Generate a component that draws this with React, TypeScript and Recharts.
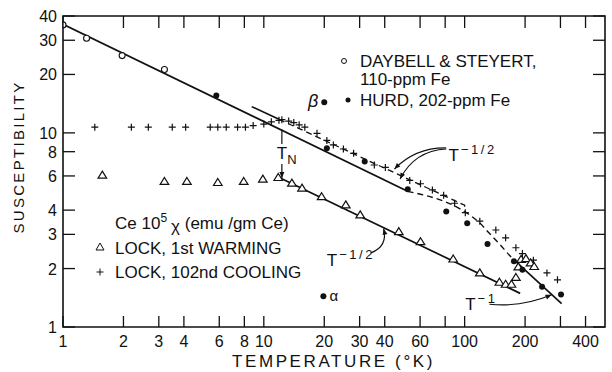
import React from "react";
import { ComposedChart, Line, Scatter, XAxis, YAxis, ReferenceArea, ReferenceLine, ReferenceDot } from "recharts";

// susceptibility of Ce vs temperature, log-log

const daybell = [
	{ T: 1.0, chi: 36.0 }, { T: 1.31, chi: 30.7 }, { T: 1.97, chi: 25.0 }, { T: 3.2, chi: 21.2 },
];
const hurd = [
	{ T: 5.8, chi: 15.6 }, { T: 20.6, chi: 8.33 }, { T: 31.8, chi: 7.13 }, { T: 52.1, chi: 5.13 },
	{ T: 81, chi: 3.93 }, { T: 103, chi: 3.42 }, { T: 130, chi: 2.68 }, { T: 176, chi: 2.18 },
	{ T: 194, chi: 1.97 }, { T: 243, chi: 1.61 }, { T: 302, chi: 1.47 },
];
const phases = [
	{ T: 20, chi: 14.4, name: "β" },
	{ T: 19.8, chi: 1.44, name: "α" },
];
const warming = [
	{ T: 1.57, chi: 6.06 }, { T: 3.2, chi: 5.62 }, { T: 4.14, chi: 5.62 }, { T: 5.9, chi: 5.55 },
	{ T: 7.94, chi: 5.62 }, { T: 9.89, chi: 5.78 }, { T: 11.8, chi: 5.89 }, { T: 13.8, chi: 5.51 },
	{ T: 15.5, chi: 5.19 }, { T: 19.4, chi: 4.69 }, { T: 25.6, chi: 4.26 }, { T: 30.2, chi: 3.78 },
	{ T: 47, chi: 3.1 }, { T: 60.3, chi: 2.75 }, { T: 87.7, chi: 2.24 }, { T: 119, chi: 1.9 },
	{ T: 149, chi: 1.7 }, { T: 160, chi: 1.66 }, { T: 171, chi: 1.66 }, { T: 180, chi: 1.8 },
	{ T: 185, chi: 2.04 }, { T: 191, chi: 2.23 }, { T: 202, chi: 2.25 }, { T: 213, chi: 2.14 },
	{ T: 222, chi: 2.05 },
];
const cooling = [
	{ T: 1.44, chi: 10.7 }, { T: 2.19, chi: 10.7 }, { T: 2.66, chi: 10.7 }, { T: 3.5, chi: 10.7 },
	{ T: 4.08, chi: 10.7 }, { T: 5.41, chi: 10.7 }, { T: 5.9, chi: 10.7 }, { T: 6.5, chi: 10.7 },
	{ T: 7.4, chi: 10.7 }, { T: 8.1, chi: 10.7 }, { T: 8.85, chi: 10.9 }, { T: 10.0, chi: 11.1 },
	{ T: 10.9, chi: 11.4 }, { T: 11.9, chi: 11.6 }, { T: 12.3, chi: 11.7 }, { T: 13.3, chi: 11.5 },
	{ T: 14.1, chi: 11.3 }, { T: 15.0, chi: 11.0 }, { T: 16.0, chi: 10.7 }, { T: 18.4, chi: 9.95 },
	{ T: 20.6, chi: 9.14 }, { T: 22.2, chi: 8.67 }, { T: 24.9, chi: 8.26 }, { T: 28.0, chi: 7.85 },
	{ T: 35.5, chi: 6.83 }, { T: 40.3, chi: 6.64 }, { T: 53.3, chi: 5.69 }, { T: 60.3, chi: 5.47 },
	{ T: 69.1, chi: 5.08 }, { T: 78.6, chi: 4.77 }, { T: 89.1, chi: 4.34 }, { T: 100.8, chi: 3.88 },
	{ T: 119, chi: 3.51 }, { T: 143, chi: 3.16 }, { T: 160, chi: 2.88 }, { T: 180, chi: 2.56 },
	{ T: 194, chi: 2.39 }, { T: 220, chi: 2.21 }, { T: 257, chi: 1.9 }, { T: 290, chi: 1.75 },
];

// drawn fit lines
const hurdFit = [{ T: 1, chi: 36.3 }, { T: 52, chi: 5.0 }];
const hurdFitDashed = [
	{ T: 52, chi: 5.0 }, { T: 118, chi: 3.46 }, { T: 132, chi: 3.06 }, { T: 150, chi: 2.66 },
	{ T: 168, chi: 2.33 }, { T: 178, chi: 2.2 },
];
const hurdInverse = [{ T: 180, chi: 2.17 }, { T: 304, chi: 1.32 }];
const coolFit = [{ T: 8.7, chi: 13.65 }, { T: 11.9, chi: 11.75 }];
const coolFitDashed = [{ T: 11.9, chi: 11.75 }, { T: 100, chi: 4.24 }, { T: 100, chi: 3.98 }];
const warmFit = [{ T: 12, chi: 5.88 }, { T: 189, chi: 1.49 }];

const xTicks = [1, 2, 3, 4, 6, 8, 10, 20, 30, 40, 60, 80, 100, 200, 300, 400];
const xTickLabels = [1, 2, 3, 4, 6, 8, 10, 20, 30, 40, 60, 100, 200, 400];
const yTicks = [1, 2, 3, 4, 6, 8, 10, 20, 30, 40];

const INK = "#111";
const FONT = "'Liberation Sans', Arial, sans-serif";
const PLOT_W = 542;
const PLOT_H = 311;

const XTick = (props: any) => {
	const { x, y, payload } = props;
	const v = payload.value;
	return (
		<g>
			<line x1={x} x2={x} y1={y} y2={y - 11} stroke={INK} strokeWidth={1.3} />
			<line x1={x} x2={x} y1={y - PLOT_H} y2={y - PLOT_H + 12} stroke={INK} strokeWidth={1.3} />
			{xTickLabels.includes(v) && (
				<text x={x} y={y + 20} textAnchor="middle" fontSize={16} fontFamily={FONT} fill={INK}>{v}</text>
			)}
		</g>
	);
};

const YTick = (props: any) => {
	const { x, y, payload } = props;
	return (
		<g>
			<line x1={x} x2={x + 12} y1={y} y2={y} stroke={INK} strokeWidth={1.3} />
			<line x1={x + PLOT_W} x2={x + PLOT_W - 12} y1={y} y2={y} stroke={INK} strokeWidth={1.3} />
			<text x={x - 6} y={y + 6} textAnchor="end" fontSize={16} fontFamily={FONT} fill={INK}>{payload.value}</text>
		</g>
	);
};

const openCircle = (p: any) => <circle cx={p.cx} cy={p.cy} r={3} fill="#fff" stroke={INK} strokeWidth={1.1} />;
const filledDot = (p: any) => <circle cx={p.cx} cy={p.cy} r={3} fill={INK} />;
const triangle = (p: any) => (
	<path d={`M${p.cx},${p.cy - 4} L${p.cx + 4.3},${p.cy + 3} L${p.cx - 4.3},${p.cy + 3} Z`} fill="#fff" stroke={INK} strokeWidth={1.2} />
);
const cross = (p: any) => (
	<path d={`M${p.cx - 3.5},${p.cy} H${p.cx + 3.5} M${p.cx},${p.cy - 3.5} V${p.cy + 3.5}`} stroke={INK} strokeWidth={1.2} />
);
const phaseDot = (p: any) => {
	const isBeta = p.payload.name === "β";
	return (
		<g>
			<circle cx={p.cx} cy={p.cy} r={3} fill={INK} />
			<text x={isBeta ? p.cx - 6 : p.cx + 6} y={p.cy + 5} textAnchor={isBeta ? "end" : "start"}
				fontSize={isBeta ? 18 : 15} fontStyle={isBeta ? "italic" : "normal"} fontFamily={FONT} fill={INK}>{p.payload.name}</text>
		</g>
	);
};

// quadratic arrow between the two segment ends, head at the second one
const curveArrow = (bend: number) => (p: any) => {
	const { x1, y1, x2, y2 } = p;
	const dx = x2 - x1, dy = y2 - y1, len = Math.hypot(dx, dy) || 1;
	const cx = (x1 + x2) / 2 - (dy / len) * bend;
	const cy = (y1 + y2) / 2 + (dx / len) * bend;
	const tx = x2 - cx, ty = y2 - cy, tl = Math.hypot(tx, ty) || 1;
	const ux = tx / tl, uy = ty / tl;
	const bx = x2 - ux * 6, by = y2 - uy * 6;
	return (
		<g>
			<path d={`M${x1},${y1} Q${cx},${cy} ${x2},${y2}`} fill="none" stroke={INK} strokeWidth={1.2} />
			<path d={`M${x2},${y2} L${bx - uy * 2.5},${by + ux * 2.5} L${bx + uy * 2.5},${by - ux * 2.5} Z`} fill={INK} />
		</g>
	);
};

const powerLabel = (sup: string) => (p: any) => (
	<text x={p.cx} y={p.cy} fontSize={17} fontFamily={FONT} fill={INK}>
		T<tspan dx={2} dy={-7} fontSize={13} letterSpacing={2.5}>{sup}</tspan>
	</text>
);
const tnLabel = (p: any) => (
	<text x={p.cx} y={p.cy} fontSize={17} fontFamily={FONT} fill={INK}>
		T<tspan dy={5} fontSize={13}>N</tspan>
	</text>
);

export default function App() {
	return (
		<div style={{ position: "absolute", left: 0, top: 0, width: 612, height: 372, background: "#fff" }}>
			<ComposedChart width={612} height={372} margin={{ top: 16, right: 7, left: 0, bottom: 0 }}>
				<XAxis dataKey="T" type="number" scale="log" domain={[1, 500]} allowDataOverflow ticks={xTicks}
					interval={0} height={45} tickSize={0} tickMargin={0} axisLine={false} tick={<XTick />} />
				<YAxis dataKey="chi" type="number" scale="log" domain={[1, 40]} allowDataOverflow ticks={yTicks}
					interval={0} width={63} tickSize={0} tickMargin={0} axisLine={false} tick={<YTick />} />
				<ReferenceArea x1={1} x2={500} y1={1} y2={40} fill="none" stroke={INK} strokeWidth={1.6} />

				<Line data={hurdFit} dataKey="chi" stroke={INK} strokeWidth={1.7} dot={false} activeDot={false} isAnimationActive={false} />
				<Line data={hurdFitDashed} dataKey="chi" type="monotone" stroke={INK} strokeWidth={1.4} strokeDasharray="6 4" dot={false} activeDot={false} isAnimationActive={false} />
				<Line data={hurdInverse} dataKey="chi" stroke={INK} strokeWidth={1.7} dot={false} activeDot={false} isAnimationActive={false} />
				<Line data={coolFit} dataKey="chi" stroke={INK} strokeWidth={1.6} dot={false} activeDot={false} isAnimationActive={false} />
				<Line data={coolFitDashed} dataKey="chi" stroke={INK} strokeWidth={1.3} strokeDasharray="6 4" dot={false} activeDot={false} isAnimationActive={false} />
				<Line data={warmFit} dataKey="chi" stroke={INK} strokeWidth={1.7} dot={false} activeDot={false} isAnimationActive={false} />

				<Scatter data={cooling} shape={cross} isAnimationActive={false} />
				<Scatter data={warming} shape={triangle} isAnimationActive={false} />
				<Scatter data={daybell} shape={openCircle} isAnimationActive={false} />
				<Scatter data={hurd} shape={filledDot} isAnimationActive={false} />
				<Scatter data={phases} shape={phaseDot} isAnimationActive={false} />

				{/* T_N marker */}
				<ReferenceLine segment={[{ x: 12.3, y: 10.4 }, { x: 12.3, y: 8.76 }]} stroke={INK} strokeWidth={1.2} />
				<ReferenceLine segment={[{ x: 12.3, y: 6.92 }, { x: 12.3, y: 5.85 }]} shape={curveArrow(0)} />
				<ReferenceDot x={11.6} y={7.33} r={0} shape={tnLabel} />

				{/* fit annotations */}
				<ReferenceLine segment={[{ x: 81, y: 8.36 }, { x: 44.7, y: 6.51 }]} shape={curveArrow(12)} />
				<ReferenceLine segment={[{ x: 81, y: 8.26 }, { x: 47.7, y: 5.78 }]} shape={curveArrow(16)} />
				<ReferenceDot x={83.2} y={7.2} r={0} shape={powerLabel("−1/2")} />
				<ReferenceLine segment={[{ x: 34.2, y: 2.41 }, { x: 39.5, y: 3.21 }]} shape={curveArrow(12)} />
				<ReferenceDot x={20.6} y={2.05} r={0} shape={powerLabel("−1/2")} />
				<ReferenceLine segment={[{ x: 133, y: 1.31 }, { x: 271, y: 1.465 }]} shape={curveArrow(8)} />
				<ReferenceDot x={100.6} y={1.22} r={0} shape={powerLabel("−1")} />
			</ComposedChart>

			<svg width={612} height={372} style={{ position: "absolute", left: 0, top: 0, pointerEvents: "none" }}
				fontFamily={FONT} fill={INK}>
				<text transform="translate(24,157) rotate(-90)" textAnchor="middle" fontSize={15} letterSpacing={2.3}>SUSCEPTIBILITY</text>
				<text x={232} y={367} fontSize={17} letterSpacing={2.6}>TEMPERATURE (°K)</text>

				<circle cx={344} cy={61} r={2.5} fill="#fff" stroke={INK} strokeWidth={1} />
				<text x={360} y={67} fontSize={17}>DAYBELL &amp; STEYERT,</text>
				<text x={360} y={85} fontSize={17}>110-ppm Fe</text>
				<circle cx={348} cy={100} r={2.5} fill={INK} />
				<text x={360} y={106} fontSize={17}>HURD, 202-ppm Fe</text>

				<text x={115} y={229} fontSize={17}>
					Ce 10<tspan dy={-7} fontSize={12}>5</tspan><tspan dx={4} dy={10}>χ</tspan><tspan dy={-3}> (emu /gm Ce)</tspan>
				</text>
				<path d="M100,243 L104,250 L96,250 Z" fill="#fff" stroke={INK} strokeWidth={1} />
				<text x={115} y={254} fontSize={17}>LOCK, 1st WARMING</text>
				<path d="M96.5,272 H103.5 M100,268.5 V275.5" stroke={INK} strokeWidth={1} />
				<text x={115} y={278} fontSize={17}>LOCK, 102nd COOLING</text>
			</svg>
		</div>
	);
}
